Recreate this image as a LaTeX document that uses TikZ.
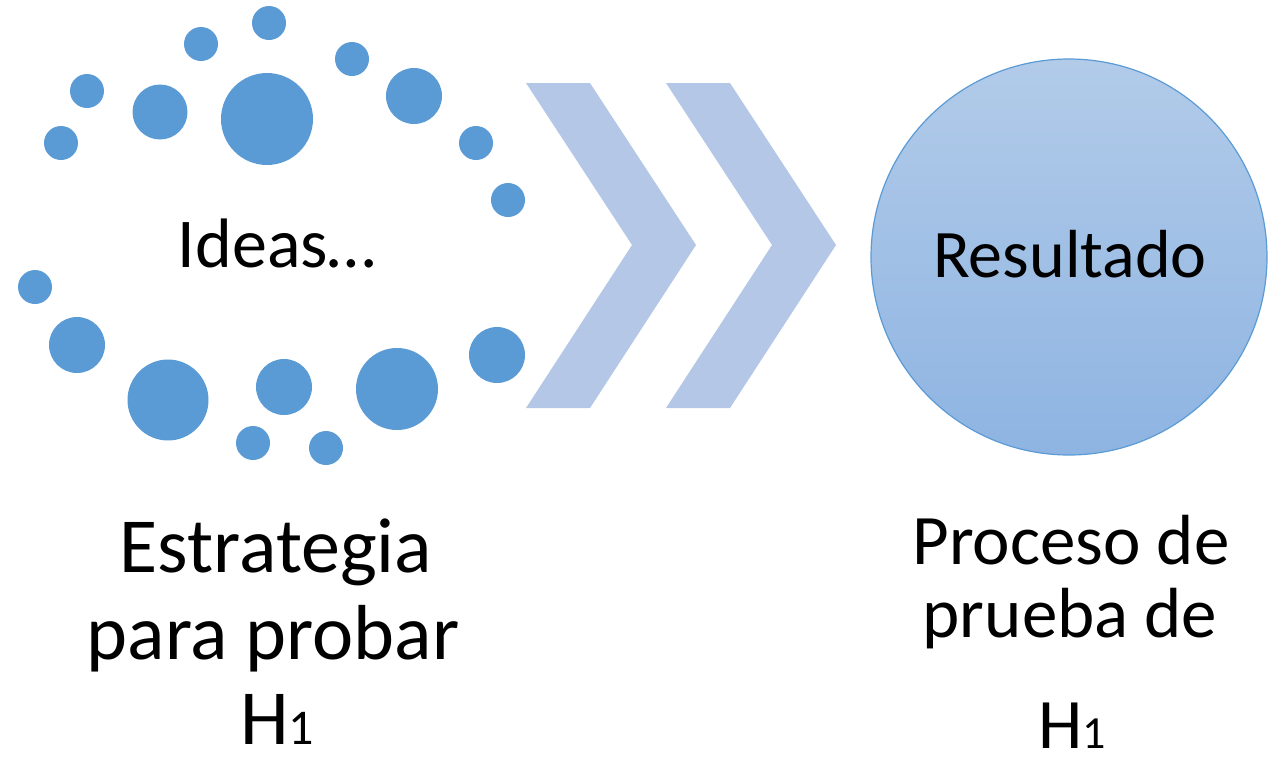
\documentclass[tikz,border=0pt]{standalone}
\usepackage{fontspec}
\setmainfont{Carlito}
\definecolor{dotblue}{HTML}{5B9BD5}
\definecolor{arrowblue}{HTML}{B4C7E7}
\definecolor{circtop}{HTML}{B2CBE9}
\definecolor{circbot}{HTML}{8EB4E2}
\tikzset{
  ideadot/.style={fill=dotblue},
  chevron/.style={fill=arrowblue},
  ideatext/.style={anchor=base, inner sep=0pt, font=\fontsize{35}{40}\selectfont},
  lefttext/.style={anchor=base, inner sep=0pt, font=\fontsize{39}{44}\selectfont},
  righttext/.style={anchor=base, inner sep=0pt, font=\fontsize{35.5}{40}\selectfont}
}
\newcommand{\subone}[1]{{\fontsize{#1}{#1}\selectfont 1}}
\begin{document}
\begin{tikzpicture}[x=0.5pt,y=-0.5pt]
    \useasboundingbox (0,0) rectangle (1274,756);
    % dots round the ideas
    \fill[ideadot] (269,23) circle (17);
    \fill[ideadot] (201,44) circle (17);
    \fill[ideadot] (352,59) circle (17);
    \fill[ideadot] (87,91) circle (17);
    \fill[ideadot] (160,112) circle (27.5);
    \fill[ideadot] (267,119) circle (46);
    \fill[ideadot] (414,96) circle (28);
    \fill[ideadot] (61,143) circle (17);
    \fill[ideadot] (476,143) circle (17);
    \fill[ideadot] (508,200) circle (17);
    \fill[ideadot] (35,287) circle (17);
    \fill[ideadot] (77,345) circle (28);
    \fill[ideadot] (497,355) circle (28);
    \fill[ideadot] (168,400) circle (40.5);
    \fill[ideadot] (284,387) circle (28);
    \fill[ideadot] (397,389) circle (41);
    \fill[ideadot] (253,443) circle (17);
    \fill[ideadot] (326,448) circle (17);
    \node[ideatext] (ideas) at (277,267) {Ideas…};
    % chevrons
    \fill[chevron] (526,83) -- (590,83) -- (696,245) -- (590,408) -- (526,408) -- (632,245) -- cycle;
    \fill[chevron] (666,83) -- (730,83) -- (836,245) -- (730,408) -- (666,408) -- (772,245) -- cycle;
    % result
    \node[circle, draw=dotblue, line width=0.6pt, top color=circtop, bottom color=circbot,
      minimum size=198pt, inner sep=0pt] (result) at (1069,257) {};
    \node[ideatext, font=\fontsize{34}{40}\selectfont] (restext) at (1070,277) {Resultado};
    % captions
    \node[lefttext] (strat1) at (276,572) {Estrategia};
    \node[lefttext] (strat2) at (273,659) {para probar};
    \node[lefttext] (strat3) at (277,744) {H\subone{25}};
    \node[righttext] (proc1) at (1071,564) {Proceso de};
    \node[righttext] (proc2) at (1070,637) {prueba de};
    \node[righttext] (proc3) at (1072,748) {H\subone{23}};
\end{tikzpicture}
\end{document}
